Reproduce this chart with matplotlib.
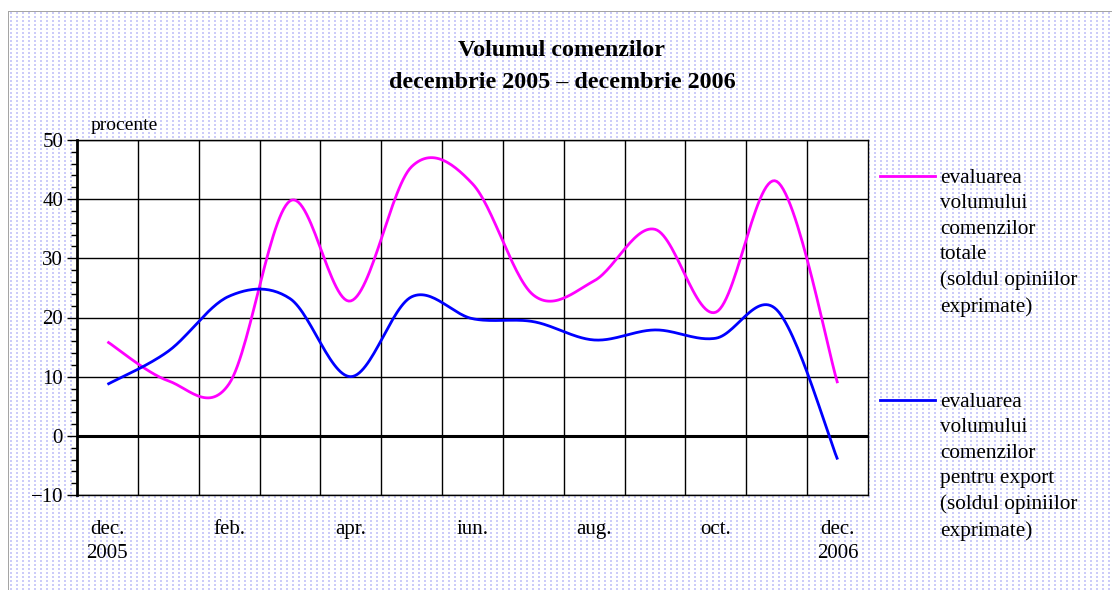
import numpy as np
import matplotlib
matplotlib.use("Agg")
import matplotlib.pyplot as plt

plt.rcParams['font.family'] = ['Liberation Serif', 'DejaVu Serif']

# data (percent, balance of opinions)
months = ["dec.\n2005", "ian.", "feb.", "mar.", "apr.", "mai", "iun.", "iul.",
          "aug.", "sep.", "oct.", "nov.", "dec.\n2006"]
total_orders = [15.9, 9.3, 8.8, 39.7, 22.8, 45.5, 42.6, 23.8, 26.2, 34.9, 20.9, 43.0, 8.9]
export_orders = [8.7, 14.3, 23.6, 23.2, 10.0, 23.5, 19.8, 19.3, 16.2, 17.9, 16.5, 21.3, -4.0]
label_total = "evaluarea\nvolumului\ncomenzilor\ntotale\n(soldul opiniilor\nexprimate)"
label_export = "evaluarea\nvolumului\ncomenzilor\npentru export\n(soldul opiniilor\nexprimate)"


def smooth(y, n=30):
    # excel-like smoothed line (catmull-rom bezier)
    y = np.asarray(y, float)
    x = np.arange(len(y), dtype=float)
    px = np.concatenate([[x[0]], x, [x[-1]]])
    py = np.concatenate([[y[0]], y, [y[-1]]])
    xs, ys = [], []
    t = np.linspace(0, 1, n)
    for i in range(len(y) - 1):
        p0 = np.array([px[i], py[i]])
        p1 = np.array([px[i + 1], py[i + 1]])
        p2 = np.array([px[i + 2], py[i + 2]])
        p3 = np.array([px[i + 3], py[i + 3]])
        c1 = p1 + (p2 - p0) / 6
        c2 = p2 - (p3 - p1) / 6
        b = ((1 - t) ** 3)[:, None] * p1 + (3 * (1 - t) ** 2 * t)[:, None] * c1 \
            + (3 * (1 - t) * t ** 2)[:, None] * c2 + (t ** 3)[:, None] * p2
        xs.extend(b[:, 0])
        ys.extend(b[:, 1])
    return np.array(xs), np.array(ys)


W, H = 1112, 590
fig = plt.figure(figsize=(W / 100, H / 100), dpi=100)
fig.patch.set_facecolor("white")

# dotted background
bg = np.ones((H, W, 4))
rows = np.zeros(H, bool)
cols = np.zeros(W, bool)
rows[12::4] = True
rows[13::4] = True
cols[10::6] = True
cols[11::6] = True
dots = rows[:, None] & cols[None, :]
bg[dots, 0] = 0.80
bg[dots, 1] = 0.80
bg[dots, 2] = 0.98
bg[11, 8:, :3] = 0.65
bg[11:, 8, :3] = 0.65
fig.figimage(bg, 0, 0, zorder=-1)

ax = fig.add_axes([77 / W, 1 - 495 / H, (868 - 77) / W, (495 - 140) / H])
ax.set_facecolor("white")

n = len(months)
ax.set_xlim(-0.5, n - 0.5)
ax.set_ylim(-10, 50)

xs, ys = smooth(total_orders)
ax.plot(xs, ys, color="#ff00ff", lw=2, zorder=3, solid_capstyle="butt")
xs, ys = smooth(export_orders)
ax.plot(xs, ys, color="#0000ff", lw=2, zorder=3, solid_capstyle="butt")

# grid
for xv in np.arange(0.5, n - 0.5, 1):
    ax.axvline(xv, color="black", lw=1, zorder=1)
for yv in range(-10, 51, 10):
    ax.axhline(yv, color="black", lw=1, zorder=1)
ax.axhline(0, color="black", lw=2.2, zorder=2)

ax.set_yticks(range(-10, 51, 10))
ax.set_yticklabels(["\u221210"] + [str(v) for v in range(0, 51, 10)])
ax.set_yticks(range(-10, 51, 2), minor=True)
ax.tick_params(axis="y", which="major", length=7, width=1, labelsize=15, pad=3)
ax.tick_params(axis="y", which="minor", length=4, width=1)
ax.set_xticks([])

for s in ax.spines.values():
    s.set_color("black")
    s.set_linewidth(1)
ax.spines["left"].set_linewidth(2)

# x labels every second month
for i in range(0, n, 2):
    ax.text(i, -0.07, months[i], transform=ax.get_xaxis_transform(),
            ha="center", va="top", fontsize=15, linespacing=1.4)

ax.text(91 / W, 1 - 126 / H, "procente", transform=fig.transFigure,
        ha="left", va="center", fontsize=14)

fig.text(562 / W, 1 - 50 / H, "Volumul comenzilor", ha="center", va="center",
         fontsize=17.3, fontweight="bold")
fig.text(562 / W, 1 - 83 / H, "decembrie 2005 \u2013 decembrie 2006", ha="center",
         va="center", fontsize=17.3, fontweight="bold")

# legend drawn by hand
for y0, col, lab in [(176, "#ff00ff", label_total), (400, "#0000ff", label_export)]:
    fig.add_artist(plt.Line2D([880 / W, 935 / W], [1 - y0 / H, 1 - y0 / H],
                              color=col, lw=2, transform=fig.transFigure))
    fig.text(940 / W, 1 - (y0 - 7) / H, lab, ha="left", va="top",
             fontsize=15.3, linespacing=1.45)

fig.savefig("out.png", dpi=100)
